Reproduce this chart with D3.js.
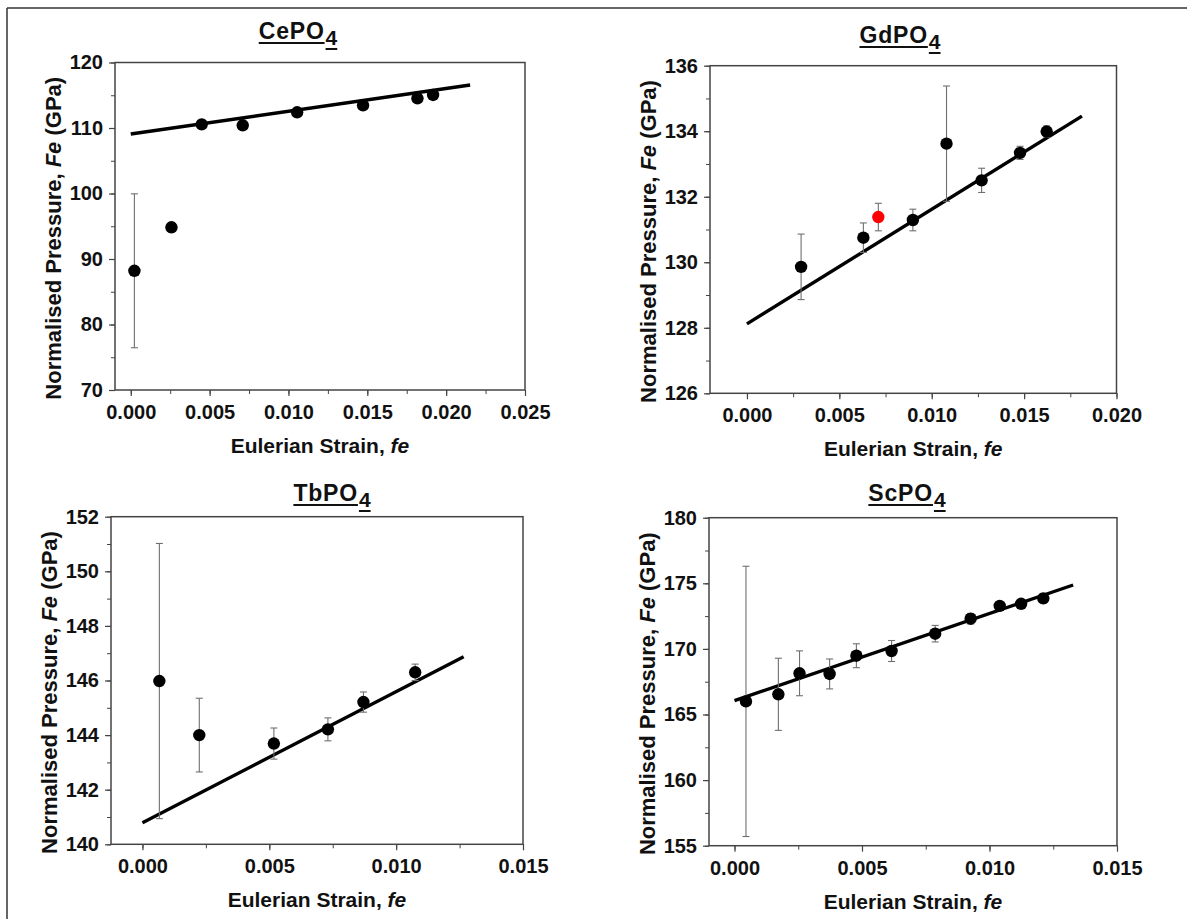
<!DOCTYPE html>
<html>
<head>
<meta charset="utf-8">
<script src="https://cdn.jsdelivr.net/npm/d3@7"></script>
<style>
  body { margin: 0; background: #fff; }
  svg { display: block; }
  text { font-family: "Liberation Sans", Arial, sans-serif; font-weight: bold; fill: #111; }
</style>
</head>
<body>
<svg id="chart" width="1187" height="919"></svg>
<script>
// CePO4
const ceStrain   = [0.00023, 0.00258, 0.0045, 0.0071, 0.01055, 0.01473, 0.01818, 0.01917]
const cePressure = [88.2, 94.84, 110.56, 110.41, 112.4, 113.46, 114.53, 115.04]
const ceError    = [11.75, 0.7, 0.3, 0.3, 0.3, 0.3, 0.3, 0.3]
const ceFitX = [0, 0.02152]
const ceFitY = [109.08, 116.56]
const ceXTicks = [0, 0.005, 0.010, 0.015, 0.020, 0.025]
const ceYTicks = [70, 80, 90, 100, 110, 120]

// GdPO4
const gdStrain   = [0.00293, 0.0063, 0.00711, 0.00898, 0.0108, 0.0127, 0.01478, 0.01622]
const gdPressure = [129.86, 130.75, 131.38, 131.29, 133.62, 132.5, 133.34, 133.99]
const gdError    = [1.0, 0.45, 0.42, 0.33, 1.76, 0.37, 0.2, 0.17]
const gdHighlight = [false, false, true, false, false, false, false, false]
const gdFitX = [0, 0.01813]
const gdFitY = [128.12, 134.46]
const gdXTicks = [0, 0.005, 0.010, 0.015, 0.020]
const gdYTicks = [126, 128, 130, 132, 134, 136]

// TbPO4
const tbStrain   = [0.000666, 0.00224, 0.00518, 0.00731, 0.00871, 0.01075]
const tbPressure = [145.98, 144.0, 143.69, 144.21, 145.21, 146.3]
const tbError    = [5.04, 1.35, 0.57, 0.42, 0.37, 0.3]
const tbFitX = [0, 0.01266]
const tbFitY = [140.79, 146.87]
const tbXTicks = [0, 0.005, 0.010, 0.015]
const tbYTicks = [140, 142, 144, 146, 148, 150, 152]

// ScPO4
const scStrain   = [0.00045, 0.00172, 0.00255, 0.00373, 0.00478, 0.00616, 0.00787, 0.00926, 0.0104, 0.01124, 0.01211]
const scPressure = [166.0, 166.54, 168.14, 168.09, 169.48, 169.84, 171.16, 172.3, 173.28, 173.44, 173.85]
const scError    = [10.3, 2.75, 1.71, 1.14, 0.91, 0.8, 0.63, 0.4, 0.3, 0.3, 0.35]
const scFitX = [0, 0.01328]
const scFitY = [166.06, 174.87]
const scXTicks = [0, 0.005, 0.010, 0.015]
const scYTicks = [155, 160, 165, 170, 175, 180]

const panels = [
    { title: 'CePO', strain: ceStrain, pressure: cePressure, error: ceError, fitX: ceFitX, fitY: ceFitY,
      xTicks: ceXTicks, yTicks: ceYTicks, xDomain: [-0.001, 0.025], yMinor: 5,
      left: 115, right: 525, top: 62.5, bottom: 390, titleX: 298, titleY: 39 },
    { title: 'GdPO', strain: gdStrain, pressure: gdPressure, error: gdError, fitX: gdFitX, fitY: gdFitY,
      xTicks: gdXTicks, yTicks: gdYTicks, xDomain: [-0.002, 0.020], yMinor: 1, highlight: gdHighlight,
      left: 710, right: 1116.5, top: 65.7, bottom: 393.3, titleX: 900, titleY: 43 },
    { title: 'TbPO', strain: tbStrain, pressure: tbPressure, error: tbError, fitX: tbFitX, fitY: tbFitY,
      xTicks: tbXTicks, yTicks: tbYTicks, xDomain: [-0.00124, 0.015], yMinor: 1,
      left: 111, right: 523, top: 516.7, bottom: 844.3, titleX: 332, titleY: 501 },
    { title: 'ScPO', strain: scStrain, pressure: scPressure, error: scError, fitX: scFitX, fitY: scFitY,
      xTicks: scXTicks, yTicks: scYTicks, xDomain: [-0.001, 0.015], yMinor: 2.5,
      left: 709, right: 1117, top: 517.7, bottom: 845.7, titleX: 907, titleY: 501 }
]

const svg = d3.select('#chart')

// outer frame (top + left edges visible in the crop)
svg.append('line').attr('x1', 7).attr('y1', 8).attr('x2', 1187).attr('y2', 8)
    .attr('stroke', '#333').attr('stroke-width', 1.5)
svg.append('line').attr('x1', 7).attr('y1', 8).attr('x2', 7).attr('y2', 919)
    .attr('stroke', '#333').attr('stroke-width', 1.5)

panels.forEach(p => drawPanel(p))

function drawPanel(p) {
    const yDomain = [p.yTicks[0], p.yTicks[p.yTicks.length - 1]]
    const x = d3.scaleLinear().domain(p.xDomain).range([p.left, p.right])
    const y = d3.scaleLinear().domain(yDomain).range([p.bottom, p.top])

    const g = svg.append('g')

    // minor ticks
    const xMinor = d3.range(p.xTicks[0], p.xDomain[1] + 1e-9, 0.0025)
    const yMinor = d3.range(yDomain[0], yDomain[1] + 1e-9, p.yMinor)

    g.append('g')
        .attr('transform', `translate(0, ${p.bottom})`)
        .call(d3.axisBottom(x).tickValues(xMinor).tickSize(4).tickSizeOuter(0).tickFormat(''))
        .call(a => a.select('.domain').remove())
        .selectAll('line').attr('stroke', '#444')

    g.append('g')
        .attr('transform', `translate(${p.left}, 0)`)
        .call(d3.axisLeft(y).tickValues(yMinor).tickSize(4).tickSizeOuter(0).tickFormat(''))
        .call(a => a.select('.domain').remove())
        .selectAll('line').attr('stroke', '#444')

    // major ticks + labels
    const xAxis = g.append('g')
        .attr('transform', `translate(0, ${p.bottom})`)
        .call(d3.axisBottom(x).tickValues(p.xTicks).tickSize(6).tickSizeOuter(0)
            .tickPadding(9).tickFormat(d3.format('.3f')))
    xAxis.select('.domain').remove()
    xAxis.selectAll('line').attr('stroke', '#444').attr('stroke-width', 1.2)
    xAxis.selectAll('text').style('font-size', '20px').attr('fill', '#111')

    const yAxis = g.append('g')
        .attr('transform', `translate(${p.left}, 0)`)
        .call(d3.axisLeft(y).tickValues(p.yTicks).tickSize(6).tickSizeOuter(0)
            .tickPadding(6).tickFormat(d3.format('d')))
    yAxis.select('.domain').remove()
    yAxis.selectAll('line').attr('stroke', '#444').attr('stroke-width', 1.2)
    yAxis.selectAll('text').style('font-size', '20px').attr('fill', '#111')

    // frame
    g.append('rect')
        .attr('x', p.left).attr('y', p.top)
        .attr('width', p.right - p.left).attr('height', p.bottom - p.top)
        .attr('fill', 'none').attr('stroke', '#444').attr('stroke-width', 1.5)

    // fit line
    g.append('line')
        .attr('x1', x(p.fitX[0])).attr('y1', y(p.fitY[0]))
        .attr('x2', x(p.fitX[1])).attr('y2', y(p.fitY[1]))
        .attr('stroke', '#000').attr('stroke-width', 3.4)

    const pts = p.strain.map((s, i) => ({ s: s, v: p.pressure[i], e: p.error[i],
        red: p.highlight ? p.highlight[i] : false }))

    // error bars
    const eb = g.append('g').selectAll('g').data(pts).enter().append('g')
        .attr('stroke', '#6f6f6f').attr('stroke-width', 1.1)
    eb.append('line')
        .attr('x1', d => x(d.s)).attr('x2', d => x(d.s))
        .attr('y1', d => y(d.v - d.e)).attr('y2', d => y(d.v + d.e))
    eb.append('line')
        .attr('x1', d => x(d.s) - 3.5).attr('x2', d => x(d.s) + 3.5)
        .attr('y1', d => y(d.v + d.e)).attr('y2', d => y(d.v + d.e))
    eb.append('line')
        .attr('x1', d => x(d.s) - 3.5).attr('x2', d => x(d.s) + 3.5)
        .attr('y1', d => y(d.v - d.e)).attr('y2', d => y(d.v - d.e))

    // points
    g.append('g').selectAll('circle').data(pts).enter().append('circle')
        .attr('cx', d => x(d.s)).attr('cy', d => y(d.v)).attr('r', 6.2)
        .attr('fill', d => d.red ? '#ff0000' : '#000')

    // title with subscript 4, underlined
    const tg = g.append('g')
    const main = tg.append('text').text(p.title)
        .attr('y', p.titleY).style('font-size', '23px').style('letter-spacing', '0.8px')
    const sub = tg.append('text').text('4')
        .attr('y', p.titleY + 6).style('font-size', '21px')
    const wMain = main.node().getComputedTextLength()
    const wSub = sub.node().getComputedTextLength()
    const x0 = p.titleX - (wMain + wSub + 1) / 2
    main.attr('x', x0)
    sub.attr('x', x0 + wMain + 1)
    tg.append('line').attr('x1', x0).attr('x2', x0 + wMain)
        .attr('y1', p.titleY + 4).attr('y2', p.titleY + 4)
        .attr('stroke', '#111').attr('stroke-width', 2)
    tg.append('line').attr('x1', x0 + wMain + 1).attr('x2', x0 + wMain + 1 + wSub)
        .attr('y1', p.titleY + 10).attr('y2', p.titleY + 10)
        .attr('stroke', '#111').attr('stroke-width', 2)

    // axis titles
    const cx = (p.left + p.right) / 2
    const xl = g.append('text')
        .attr('x', cx).attr('y', p.bottom + 63)
        .attr('text-anchor', 'middle').style('font-size', '21px')
    xl.append('tspan').text('Eulerian Strain, ')
    xl.append('tspan').text('fe').style('font-style', 'italic')

    const cy = (p.top + p.bottom) / 2 + 12
    const yl = g.append('text')
        .attr('transform', `translate(${p.left - 54}, ${cy}) rotate(-90)`)
        .attr('text-anchor', 'middle').style('font-size', '22px')
    yl.append('tspan').text('Normalised Pressure, ')
    yl.append('tspan').text('Fe').style('font-style', 'italic')
    yl.append('tspan').text(' (GPa)')
}
</script>
</body>
</html>
